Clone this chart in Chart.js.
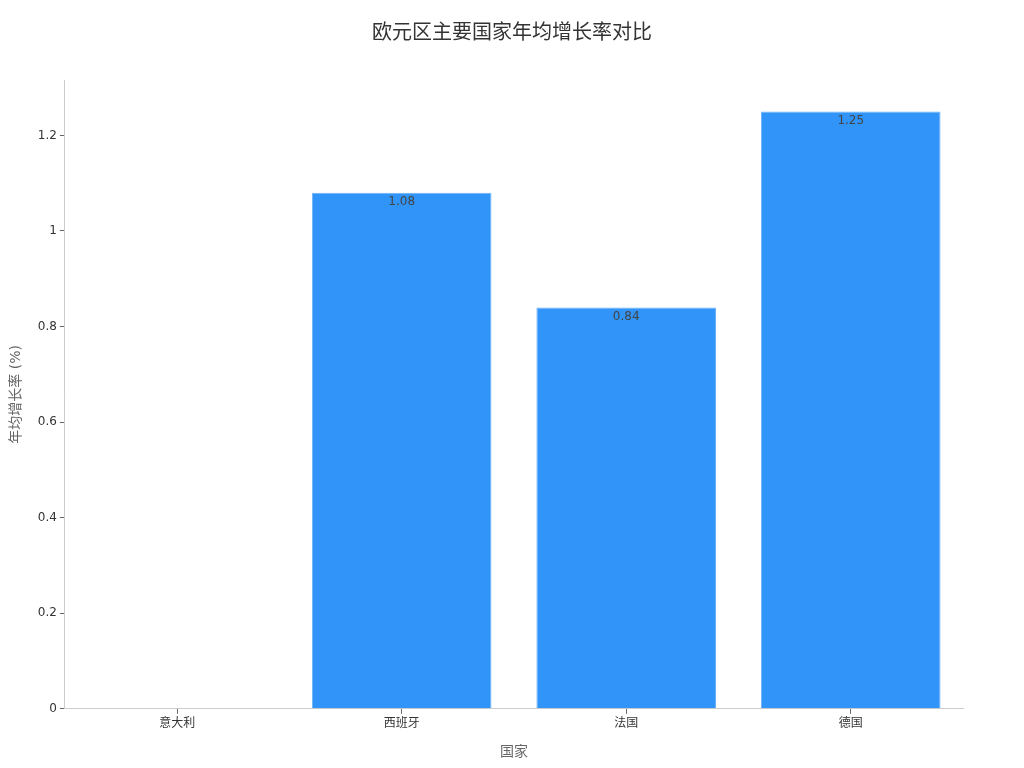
<!DOCTYPE html>
<html>
<head>
<meta charset="utf-8">
<script src="https://cdn.jsdelivr.net/npm/chart.js@4"></script>
<style>
  body { margin: 0; background: #fff; }
  #wrap { width: 1024px; height: 768px; }
</style>
</head>
<body>
<div id="wrap"><canvas id="chart"></canvas></div>
<script>
const countries = ["意大利", "西班牙", "法国", "德国"];
const growth = [0, 1.08, 0.84, 1.25];
const yTicks = [0, 0.2, 0.4, 0.6, 0.8, 1, 1.2];

const chartTitle = "欧元区主要国家年均增长率对比";
const fontFamily = '"DejaVu Sans", "Noto Sans CJK SC", sans-serif';

// title centred on the whole canvas, and value labels just inside each bar top
const drawText = {
  id: "drawText",
  afterDatasetsDraw(chart) {
    const ctx = chart.ctx;
    const meta = chart.getDatasetMeta(0);
    ctx.save();
    ctx.font = "12px " + fontFamily;
    ctx.fillStyle = "#444";
    ctx.textAlign = "center";
    ctx.textBaseline = "middle";
    meta.data.forEach((bar, i) => {
      if (!growth[i]) return;
      ctx.fillText(String(growth[i]), bar.x, bar.y + 9);
    });
    ctx.font = "20px " + fontFamily;
    ctx.fillStyle = "#333";
    ctx.fillText(chartTitle, chart.width / 2, 34);
    ctx.restore();
  }
};

new Chart(document.getElementById("chart"), {
  type: "bar",
  data: {
    labels: countries,
    datasets: [{
      data: growth,
      backgroundColor: "#3094f9",
      borderColor: "#6db3fb",
      borderWidth: 1,
      barPercentage: 0.8,
      categoryPercentage: 1
    }]
  },
  options: {
    responsive: true,
    maintainAspectRatio: false,
    animation: false,
    layout: { padding: { top: 80, right: 61, bottom: 3, left: 4 } },
    plugins: {
      legend: { display: false },
      tooltip: { enabled: false },
      title: { display: false }
    },
    scales: {
      x: {
        grid: { display: true, offset: false, drawOnChartArea: false, tickLength: 5, color: "#666" },
        border: { color: "#ccc" },
        ticks: { color: "#333", font: { family: fontFamily, size: 12 }, padding: 3 },
        title: {
          display: true, text: "国家", color: "#666",
          font: { family: fontFamily, size: 14 }, padding: { top: 10 }
        }
      },
      y: {
        min: 0,
        max: 1.316,
        afterBuildTicks(axis) { axis.ticks = yTicks.map(v => ({ value: v })); },
        grid: { display: true, drawOnChartArea: false, tickLength: 5, color: "#666" },
        border: { color: "#ccc" },
        ticks: {
          color: "#333", font: { family: fontFamily, size: 12 }, padding: 3,
          callback: v => String(v)
        },
        title: {
          display: true, text: "年均增长率 (%)", color: "#666",
          font: { family: fontFamily, size: 14 }, padding: { bottom: 10 }
        }
      }
    }
  },
  plugins: [drawText]
});
</script>
</body>
</html>
